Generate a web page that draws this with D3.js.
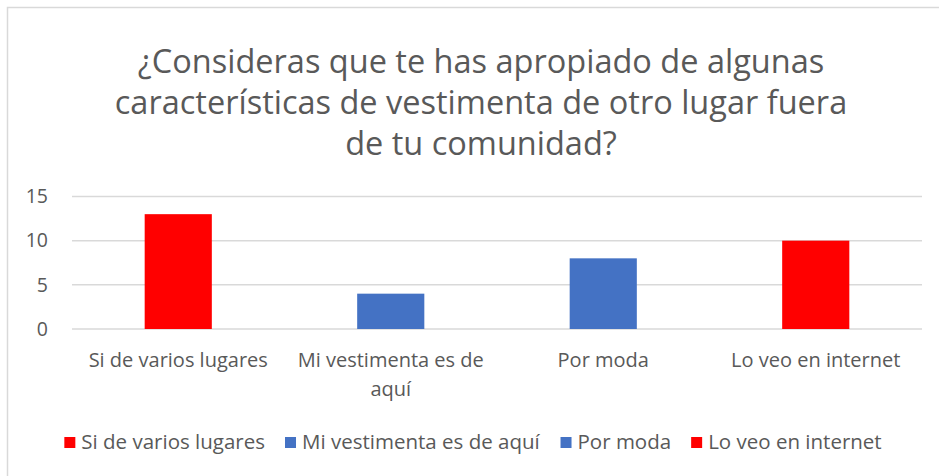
<!DOCTYPE html>
<html>
<head>
<meta charset="utf-8">
<script src="https://cdn.jsdelivr.net/npm/d3@7"></script>
<style>
  body { margin: 0; background: #fff; }
  text { font-family: "Open Sans", "Noto Sans", sans-serif; fill: #595959; }
</style>
</head>
<body>
<div id="chart"></div>
<script>
const titleLines = ["¿Consideras que te has apropiado de algunas",
                    "características de vestimenta de otro lugar fuera",
                    "de tu comunidad?"];
const categories = ["Si de varios lugares", "Mi vestimenta es de aquí", "Por moda", "Lo veo en internet"];
const values = [13, 4, 8, 10];
const colors = ["#ff0000", "#4472c4", "#4472c4", "#ff0000"];
const yTicks = [0, 5, 10, 15];

const W = 939, H = 476;
const margin = {left: 72, right: 17, top: 196.5, bottom: 147};
const fs = 20;

const svg = d3.select("#chart").append("svg").attr("width", W).attr("height", H);

// chart area border (Excel frame, runs off the right/bottom)
svg.append("rect")
  .attr("x", 7.5).attr("y", 7.5).attr("width", W).attr("height", H)
  .attr("fill", "none").attr("stroke", "#d9d9d9").attr("stroke-width", 1.5);

svg.append("text")
  .attr("text-anchor", "middle")
  .attr("font-size", 32.5)
  .selectAll("tspan").data(titleLines).join("tspan")
    .attr("x", 481)
    .attr("y", (d, i) => 73 + i * 41)
    .text(d => d);

const x = d3.scaleBand().domain(categories).range([margin.left, W - margin.right]).paddingInner(0).paddingOuter(0);
const y = d3.scaleLinear().domain([0, 15]).range([H - margin.bottom, margin.top]);

// gridlines
svg.append("g").selectAll("line").data(yTicks).join("line")
  .attr("x1", margin.left).attr("x2", W - margin.right)
  .attr("y1", d => y(d)).attr("y2", d => y(d))
  .attr("stroke", "#d9d9d9").attr("stroke-width", 1.5);

// y labels
svg.append("g").selectAll("text").data(yTicks).join("text")
  .attr("x", 48).attr("y", d => y(d))
  .attr("dy", "0.35em")
  .attr("text-anchor", "end")
  .attr("font-size", 19.5)
  .text(d => d);

// bars
const barW = x.bandwidth() * 0.316;
svg.append("g").selectAll("rect").data(values).join("rect")
  .attr("x", (d, i) => x(categories[i]) + (x.bandwidth() - barW) / 2)
  .attr("width", barW)
  .attr("y", d => y(d))
  .attr("height", d => y(0) - y(d))
  .attr("fill", (d, i) => colors[i]);

// category labels, wrapped to band width
const catText = svg.append("g").selectAll("text").data(categories).join("text")
  .attr("text-anchor", "middle")
  .attr("font-size", fs);

catText.each(function(d) {
  const t = d3.select(this);
  const cx = x(d) + x.bandwidth() / 2;
  const words = d.split(" ");
  let line = [], lines = [];
  let tspan = t.append("tspan").attr("x", cx);
  for (const w of words) {
    line.push(w);
    tspan.text(line.join(" "));
    if (tspan.node().getComputedTextLength() > x.bandwidth() - 6 && line.length > 1) {
      line.pop();
      lines.push(line.join(" "));
      line = [w];
    }
  }
  lines.push(line.join(" "));
  tspan.remove();
  t.selectAll("tspan").data(lines).join("tspan")
    .attr("x", cx)
    .attr("y", (l, i) => 367 + i * 29)
    .text(l => l);
});

// legend
const legend = svg.append("g");
let lx = 0;
const items = legend.selectAll("g").data(categories).join("g");
items.append("rect").attr("width", 11).attr("height", 11).attr("y", -12)
  .attr("fill", (d, i) => colors[i]);
items.append("text").attr("x", 17).attr("font-size", 20.5).text(d => d);
items.each(function() {
  d3.select(this).attr("transform", `translate(${lx},0)`);
  lx += this.getBBox().width + 20;
});
legend.attr("transform", `translate(${(W + 7 - (lx - 20)) / 2},449)`);
</script>
</body>
</html>
